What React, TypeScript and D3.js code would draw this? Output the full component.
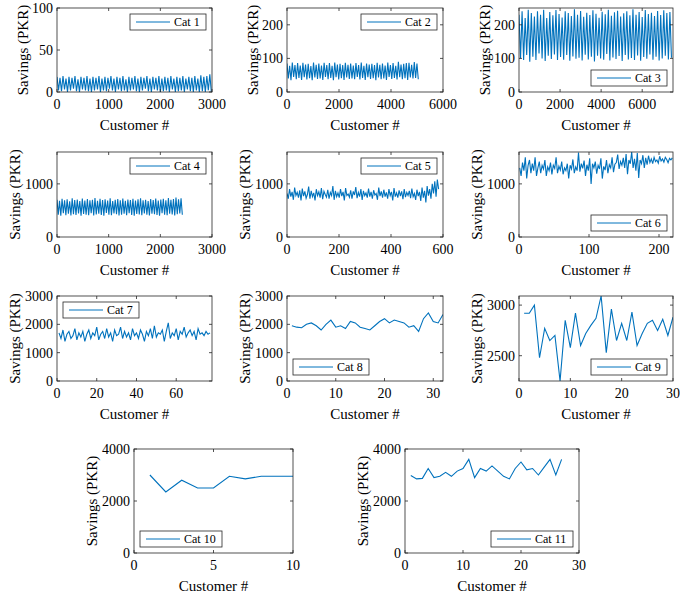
import * as d3 from "d3"

// dense series are sampled: one value per `step` customers
const cat1 = [18,2,17,1,19,3,16,0,18,2,17,4,19,1,15,0,18,3,17,2,19,1,16,0,18,2,17,3,19,0,16,2,18,1,17,4,19,2,16,0,18,3,17,1,19,2,15,0,18,2,17,3,19,1,16,0,18,2,17,4,19,1,16,0,18,3,17,2,19,0,16,1,18,2,17,0,19,3,16,0,18,1,17,2,19,0,16,3,18,1,17,0,19,2,16,0,20,1,18,0,19,2,21,0]
const cat2 = [85,40,78,35,88,45,80,38,86,42,79,36,87,44,82,37,84,41,77,35,88,43,81,39,85,40,79,36,87,45,80,38,86,42,78,35,88,44,82,37,84,41,80,36,87,43,81,39,85,40,79,38,86,45,80,37,88,42,78,36,85,44,82,39,84,41,80,35,87,43,81,38,85,40,79,36,88,45,80,39,86,42,78,37,90,44,82,38,84,41,86,36,87,43,81,40,89,42,85,38]
const cat3 = [230,100,240,95,220,110,245,90,235,105,225,95,240,115,230,100,245,92,220,108,238,98,228,112,244,95,232,104,222,96,240,110,235,93,226,106,246,99,230,102,241,94,224,111,236,97,229,105,243,91,233,108,221,100,239,96,231,113,245,94,227,103,237,98,242,107,225,92,234,110,240,97,228,101,246,95,230,109,238,93,223,104,244,99,232,112,236,96,226,105,241,94,229,100,243,108,235,97,238,102]
const cat4 = [700,420,680,400,720,450,690,410,710,440,670,405,730,430,695,415,705,445,675,400,725,435,685,420,715,410,690,450,700,405,735,425,680,440,720,415,695,400,710,455,685,420,730,410,675,445,700,430,715,405,690,420,725,440,680,410,705,450,695,415,720,400,685,435,710,425,730,410,690,445,700,420,675,405,715,440,695,430,725,415,685,400,705,450,720,420,690,410,735,440,700,425,715,405,745,430,710,445,730,420]
const cat5 = [820,720,900,760,850,700,930,780,840,740,880,690,910,770,860,730,800,950,720,870,760,830,690,900,780,850,740,920,710,860,800,750,890,720,840,780,960,700,870,760,830,740,900,770,850,690,920,780,810,750,880,720,860,790,940,730,840,760,900,700,870,780,830,740,910,760,850,720,880,790,820,700,930,770,860,740,890,760,840,720,900,780,850,690,920,760,830,740,880,770,860,710,900,750,840,780,870,730,910,760,820,700,890,770,850,680,930,740,870,650,960,780,900,720,1000,820,1050,760,1080,900]
const cat6 = [1300,1150,1400,1250,1500,1100,1350,1450,1200,1380,1250,1500,1150,1300,1420,1200,1350,1280,1450,1150,1320,1250,1400,1180,1350,1290,1500,1200,1330,1260,1420,1180,1300,1250,1380,1100,1350,1280,1460,1200,1320,1250,1590,1230,1380,1290,1440,1150,1360,1250,1480,1000,1380,1300,1420,1190,1350,1280,1480,1100,1330,1260,1450,1200,1360,1300,1500,1220,1370,1400,1550,1280,1420,1350,1490,1300,1560,1180,1450,1380,1600,1300,1470,1250,1580,1110,1450,1380,1540,1300,1490,1360,1530,1400,1470,1380,1500,1420,1450,1390,1520,1430,1470,1410,1500,1460,1400,1480,1450,1490]
const cat7 = [1700,1500,1800,1400,1650,1750,1500,1600,1850,1450,1700,1550,1750,1400,1650,1800,1500,1700,1600,1900,1450,1650,1750,1500,1850,1550,1700,1400,1800,1600,1650,1900,1500,1750,1550,1700,1450,1850,1600,1700,1500,1800,1650,1400,1750,1600,1850,1500,1950,1550,1700,1650,1800,1400,1750,2050,1500,1700,1600,1850,1450,1750,1650,1900,1550,1700,1800,1600,1750,1450,1850,1650,1700,1600,1750,1650,1700]
const cat8 = [1950,1900,1880,2000,2050,1950,1800,2000,2150,1900,1950,1850,2100,2050,1900,1850,1800,1950,2100,2200,2050,2150,2100,2050,1900,1950,1750,2200,2400,2100,2050,2350]
const cat9 = [2920,2920,3000,2480,2770,2650,2700,2250,2850,2580,2920,2600,2720,2800,2870,3090,2530,2960,2650,2820,2650,2930,2600,2720,2820,2850,2750,2860,2700,2880]
const cat10 = [3000,2350,2800,2500,2500,2950,2850,2950,2950,2950]
const cat11 = [2980,2850,2870,3250,2900,2950,3100,2950,3150,3250,3600,2900,3250,3150,3350,3150,2950,2850,3250,3500,3200,3250,3000,3300,3600,3000,3600]

type Panel = {
  name: string; values: number[]; step: number; start: number
  xDomain: [number, number]; xTicks: number[]
  yDomain: [number, number]; yTicks: number[]
  legend: "tr" | "br" | "tl" | "bl"
  box: [number, number, number, number]
}

const C1 = [57, 212], C2 = [287, 443], C3 = [519, 673]
const R1 = [8, 92], R2 = [152, 237], R3 = [296, 381], R4 = [449, 553]
const bx = (c: number[], r: number[]): [number, number, number, number] => [c[0], r[0], c[1], r[1]]

const panels: Panel[] = [
  { name: "Cat 1", values: cat1, step: 29, start: 0, xDomain: [0, 3000], xTicks: [0, 1000, 2000, 3000], yDomain: [0, 100], yTicks: [0, 50, 100], legend: "tr", box: bx(C1, R1) },
  { name: "Cat 2", values: cat2, step: 51, start: 0, xDomain: [0, 6000], xTicks: [0, 2000, 4000, 6000], yDomain: [0, 250], yTicks: [0, 100, 200], legend: "tr", box: bx(C2, R1) },
  { name: "Cat 3", values: cat3, step: 75, start: 0, xDomain: [0, 7500], xTicks: [0, 2000, 4000, 6000], yDomain: [0, 250], yTicks: [0, 100, 200], legend: "br", box: bx(C3, R1) },
  { name: "Cat 4", values: cat4, step: 24.5, start: 0, xDomain: [0, 3000], xTicks: [0, 1000, 2000, 3000], yDomain: [0, 1600], yTicks: [0, 1000], legend: "tr", box: bx(C1, R2) },
  { name: "Cat 5", values: cat5, step: 4.9, start: 0, xDomain: [0, 600], xTicks: [0, 200, 400, 600], yDomain: [0, 1600], yTicks: [0, 1000], legend: "tr", box: bx(C2, R2) },
  { name: "Cat 6", values: cat6, step: 2, start: 1, xDomain: [0, 220], xTicks: [0, 100, 200], yDomain: [0, 1600], yTicks: [0, 1000], legend: "br", box: bx(C3, R2) },
  { name: "Cat 7", values: cat7, step: 1, start: 1, xDomain: [0, 78], xTicks: [0, 20, 40, 60], yDomain: [0, 3000], yTicks: [0, 1000, 2000, 3000], legend: "tl", box: bx(C1, R3) },
  { name: "Cat 8", values: cat8, step: 1, start: 1, xDomain: [0, 32], xTicks: [0, 10, 20, 30], yDomain: [0, 3000], yTicks: [0, 1000, 2000, 3000], legend: "bl", box: bx(C2, R3) },
  { name: "Cat 9", values: cat9, step: 1, start: 1, xDomain: [0, 30], xTicks: [0, 10, 20, 30], yDomain: [2250, 3090], yTicks: [2500, 3000], legend: "br", box: bx(C3, R3) },
  { name: "Cat 10", values: cat10, step: 1, start: 1, xDomain: [0, 10], xTicks: [0, 5, 10], yDomain: [0, 4000], yTicks: [0, 2000, 4000], legend: "bl", box: bx([134, 293], R4) },
  { name: "Cat 11", values: cat11, step: 1, start: 1, xDomain: [0, 30], xTicks: [0, 10, 20, 30], yDomain: [0, 4000], yTicks: [0, 2000, 4000], legend: "br", box: bx([405, 579], R4) },
]

const BLUE = "#0072BD"
const FONT = "'Liberation Serif', 'Times New Roman', 'DejaVu Serif', serif"

function Subplot({ p }: { p: Panel }) {
  const [x0, y0, x1, y1] = p.box
  const x = d3.scaleLinear().domain(p.xDomain).range([x0, x1])
  const y = d3.scaleLinear().domain(p.yDomain).range([y1, y0])
  const line = d3.line<number>().x((_, i) => x(p.start + i * p.step)).y(d => y(d))
  const id = "c" + p.name.replace(" ", "")
  const lw = p.name.length > 5 ? 82 : 76, lh = 16
  const lx = p.legend.endsWith("r") ? x1 - lw - 6 : x0 + 6
  const ly = p.legend.startsWith("t") ? y0 + 6 : y1 - lh - 6
  const tk = 3
  return (
    <g>
      <clipPath id={id}>
        <rect x={x0} y={y0} width={x1 - x0} height={y1 - y0} />
      </clipPath>
      <path d={line(p.values) ?? ""} fill="none" stroke={BLUE} strokeWidth={1.1} clipPath={`url(#${id})`} />
      <rect x={x0} y={y0} width={x1 - x0} height={y1 - y0} fill="none" stroke="#262626" strokeWidth={0.8} />
      {p.xTicks.map(t => (
        <g key={"x" + t}>
          <line x1={x(t)} x2={x(t)} y1={y1} y2={y1 - tk} stroke="#262626" strokeWidth={0.8} />
          <line x1={x(t)} x2={x(t)} y1={y0} y2={y0 + tk} stroke="#262626" strokeWidth={0.8} />
          <text x={x(t)} y={y1 + 17} textAnchor="middle" fontSize={14}>{t}</text>
        </g>
      ))}
      {p.yTicks.map(t => (
        <g key={"y" + t}>
          <line x1={x0} x2={x0 + tk} y1={y(t)} y2={y(t)} stroke="#262626" strokeWidth={0.8} />
          <line x1={x1} x2={x1 - tk} y1={y(t)} y2={y(t)} stroke="#262626" strokeWidth={0.8} />
          <text x={x0 - 4} y={y(t)} dy="0.35em" textAnchor="end" fontSize={14}>{t}</text>
        </g>
      ))}
      <text x={(x0 + x1) / 2} y={y1 + 38} textAnchor="middle" fontSize={15}>Customer #</text>
      <text transform={`translate(${x0 - (p.yTicks[p.yTicks.length - 1] >= 1000 ? 37 : 29)},${(y0 + y1) / 2}) rotate(-90)`} textAnchor="middle" fontSize={15}>Savings (PKR)</text>
      <rect x={lx} y={ly} width={lw} height={lh} fill="white" stroke="#262626" strokeWidth={0.8} />
      <line x1={lx + 6} x2={lx + 40} y1={ly + lh / 2} y2={ly + lh / 2} stroke={BLUE} strokeWidth={1} />
      <text x={lx + 44} y={ly + lh / 2} dy="0.35em" fontSize={12}>{p.name}</text>
    </g>
  )
}

export default function App() {
  return (
    <svg width={680} height={595} style={{ position: "absolute", left: 0, top: 0, background: "white", fontFamily: FONT, fontWeight: "normal" }}>
      {panels.map(p => <Subplot key={p.name} p={p} />)}
    </svg>
  )
}
